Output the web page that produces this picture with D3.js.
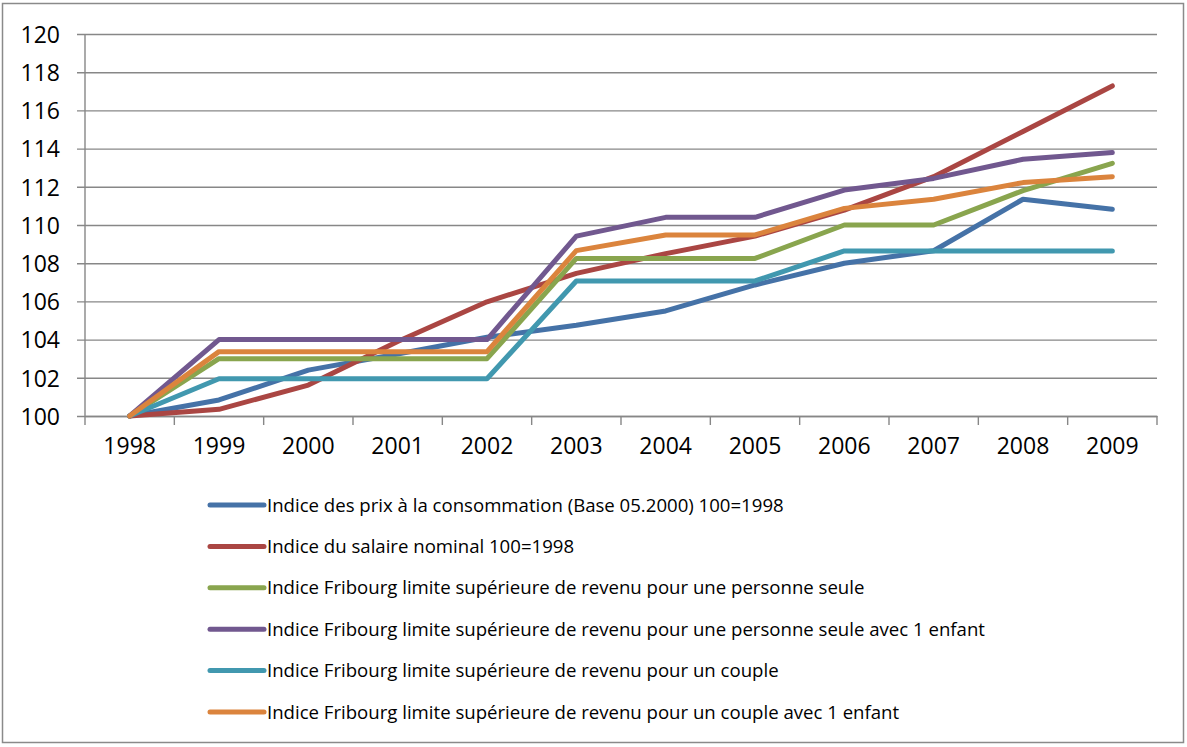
<!DOCTYPE html>
<html><head><meta charset="utf-8">
<script src="https://cdn.jsdelivr.net/npm/d3@7"></script>
<style>
html,body{margin:0;padding:0;background:#fff;}
svg text{font-family:"Open Sans","Noto Sans",sans-serif;fill:#000;}
</style></head>
<body><svg id="c" width="1187" height="747"></svg>
<script>
const years = ["1998","1999","2000","2001","2002","2003","2004","2005","2006","2007","2008","2009"];
const yTicks = [100,102,104,106,108,110,112,114,116,118,120];
const seriesNames = [
  "Indice des prix à la consommation (Base 05.2000) 100=1998",
  "Indice du salaire nominal 100=1998",
  "Indice Fribourg limite supérieure de revenu pour une personne seule",
  "Indice Fribourg limite supérieure de revenu pour une personne seule avec 1 enfant",
  "Indice Fribourg limite supérieure de revenu pour un couple",
  "Indice Fribourg limite supérieure de revenu pour un couple avec 1 enfant"
];
const prix      = [100,100.84,102.4,103.25,104.12,104.75,105.5,106.86,108.0,108.65,111.35,110.83];
const salaire   = [100,100.35,101.62,103.9,105.98,107.47,108.5,109.42,110.78,112.53,114.9,117.28];
const seule     = [100,103.0,103.0,103.0,103.0,108.25,108.25,108.25,110.0,110.0,111.8,113.23];
const seuleEnf  = [100,104.0,104.0,104.0,104.0,109.42,110.4,110.4,111.83,112.44,113.44,113.79];
const couple    = [100,101.95,101.95,101.95,101.95,107.07,107.07,107.07,108.64,108.64,108.64,108.64];
const coupleEnf = [100,103.37,103.37,103.37,103.37,108.66,109.48,109.48,110.87,111.35,112.22,112.53];
const allSeries = [prix,salaire,seule,seuleEnf,couple,coupleEnf];
const colors = ["#4572A7","#AA4643","#89A54E","#71588F","#4198AF","#DB843D"];

const svg = d3.select("#c");
svg.append("rect").attr("x",2.5).attr("y",3.5).attr("width",1181).attr("height",739)
  .attr("fill","#fff").attr("stroke","#8a8a8a").attr("stroke-width",1.5);

const pL=85,pR=1157,pT=34,pB=416;
const x = d3.scaleBand().domain(years).range([pL,pR]).padding(0);
const y = d3.scaleLinear().domain([100,120]).range([pB,pT]);
const gridColor="#878787";

const yAxis = d3.axisLeft(y).tickValues(yTicks).tickSize(-(pR-pL)).tickFormat(d=>d).tickPadding(16);
const gy = svg.append("g").attr("transform",`translate(${pL},0)`).call(yAxis);
gy.select(".domain").remove();
gy.selectAll(".tick line").attr("x1",-8).attr("stroke",gridColor).attr("stroke-width",1.4);
gy.selectAll(".tick text").attr("font-size",23).attr("x",-25).attr("dy","0.36em");
svg.append("line").attr("x1",pL).attr("x2",pL).attr("y1",pT).attr("y2",pB)
  .attr("stroke",gridColor).attr("stroke-width",1.4);

const xAxis = d3.axisBottom(x).tickSize(0).tickPadding(22);
const gx = svg.append("g").attr("transform",`translate(0,${pB})`).call(xAxis);
gx.select(".domain").attr("stroke",gridColor).attr("stroke-width",1.4);
gx.selectAll(".tick text").attr("font-size",23);
const bounds = years.map(d=>x(d)).concat([pR]);
gx.selectAll("line.bt").data(bounds).enter().append("line").attr("class","bt")
  .attr("x1",d=>d).attr("x2",d=>d).attr("y1",0).attr("y2",9)
  .attr("stroke",gridColor).attr("stroke-width",1.4);

const line = d3.line().x((d,i)=>x(years[i])+x.bandwidth()/2).y(d=>y(d));
svg.append("g").selectAll("path").data(allSeries).enter().append("path")
  .attr("d",line).attr("fill","none").attr("stroke",(d,i)=>colors[i])
  .attr("stroke-width",5).attr("stroke-linejoin","round").attr("stroke-linecap","round");

const lg = svg.append("g");
const rowY = d3.scalePoint().domain(d3.range(6)).range([505,712]);
seriesNames.forEach((n,i)=>{
  const yy=rowY(i);
  lg.append("line").attr("x1",210).attr("x2",264).attr("y1",yy).attr("y2",yy)
    .attr("stroke",colors[i]).attr("stroke-width",5).attr("stroke-linecap","round");
  lg.append("text").attr("x",267).attr("y",yy).attr("dy","0.35em").attr("font-size",18.6)
    .text(n);
});
</script></body></html>
